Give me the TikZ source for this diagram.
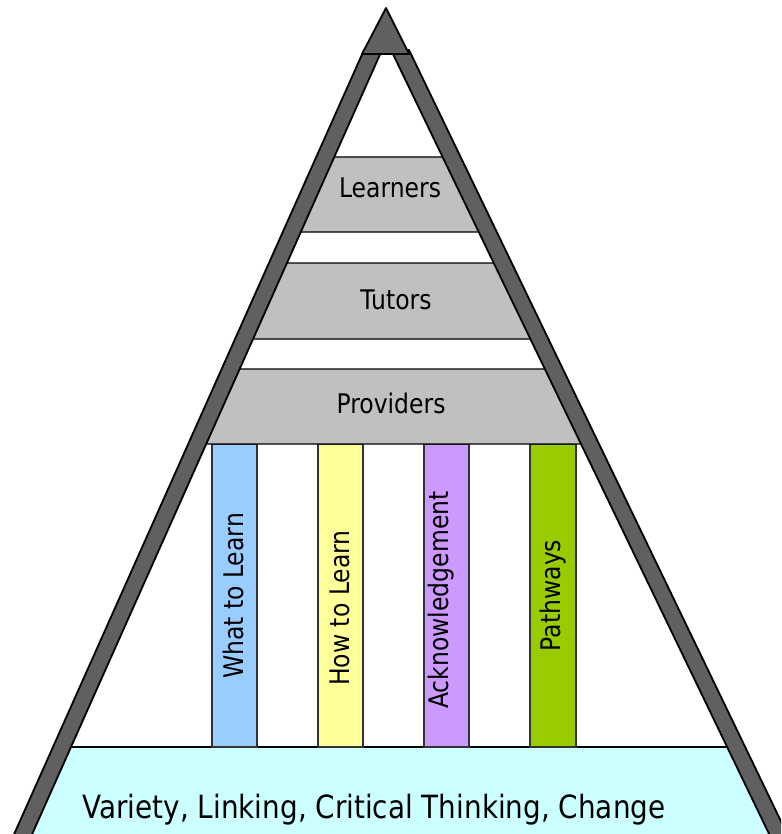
\documentclass[tikz,border=0pt]{standalone}
\usepackage{fontspec}
\setmainfont{DejaVu Sans}[FakeStretch=0.87]
\usepackage{tikz}

\definecolor{leggray}{HTML}{606060}
\definecolor{tiergray}{HTML}{C0C0C0}
\definecolor{basecyan}{HTML}{CCFFFF}
\definecolor{pblue}{HTML}{99CCFF}
\definecolor{pyellow}{HTML}{FFFF99}
\definecolor{ppurple}{HTML}{CC99FF}
\definecolor{pgreen}{HTML}{99CC00}

\begin{document}
\begin{tikzpicture}
			[x=1pt,y=-1pt]
			\tikzstyle{every node}=[inner sep=0pt, font=\fontsize{27}{32}\selectfont]
			\tikzstyle{tier}=[draw=black, fill=tiergray, line width=1.2pt]
			\tikzstyle{pillar}=[draw=black!80, line width=1.2pt]
			\tikzstyle{leg}=[draw=black, fill=leggray, line width=1.8pt, line join=round]
			\useasboundingbox (0,0) rectangle (781,834);
			\clip (0,0) rectangle (781,834);
			
			% base
			\fill[basecyan] (60.65,747) -- (736.3,747) -- (782,840) -- (18,840) -- cycle;
			\draw[line width=1.2pt] (60.65,747) -- (736.3,747);
			
			% pillars
			\draw[pillar, fill=pblue]   (212,444) rectangle (257,747);
			\draw[pillar, fill=pyellow] (318,444) rectangle (363,747);
			\draw[pillar, fill=ppurple] (424,444) rectangle (469,747);
			\draw[pillar, fill=pgreen]  (530,444) rectangle (576,747);
			
			% tiers
			\draw[tier] (326.2,157) -- (450.4,157) -- (486.8,232) -- (292.4,232) -- cycle;
			\draw[tier] (278.5,263) -- (501.8,263) -- (538.6,339) -- (244.3,339) -- cycle;
			\draw[tier] (230.75,369) -- (553.1,369) -- (589.5,444) -- (197,444) -- cycle;
			
			% legs and top
			\draw[leg] (364,50) -- (382,50) -- (29.5,840) -- (11.5,840) -- cycle;
			\draw[leg] (391,50) -- (409,50) -- (790,840) -- (772,840) -- cycle;
			\draw[leg] (386,8) -- (409,54) -- (362,54) -- cycle;
			
			\node[anchor=base] (lrn) at (390,198) {Learners};
			\node[anchor=base] (tut) at (396,309) {Tutors};
			\node[anchor=base] (prv) at (391,413) {Providers};
			\node[anchor=base, rotate=90] (what) at (243,596) {What to Learn};
			\node[anchor=base, rotate=90] (how) at (349,608) {How to Learn};
			\node[anchor=base, rotate=90] (ack) at (448,600) {Acknowledgement};
			\node[anchor=base, rotate=90] (pw) at (560,595.5) {Pathways};
			\node[anchor=base, font=\fontsize{32}{38}\selectfont] (base) at (374,818) {Variety, Linking, Critical Thinking, Change};
		\end{tikzpicture}
\end{document}
